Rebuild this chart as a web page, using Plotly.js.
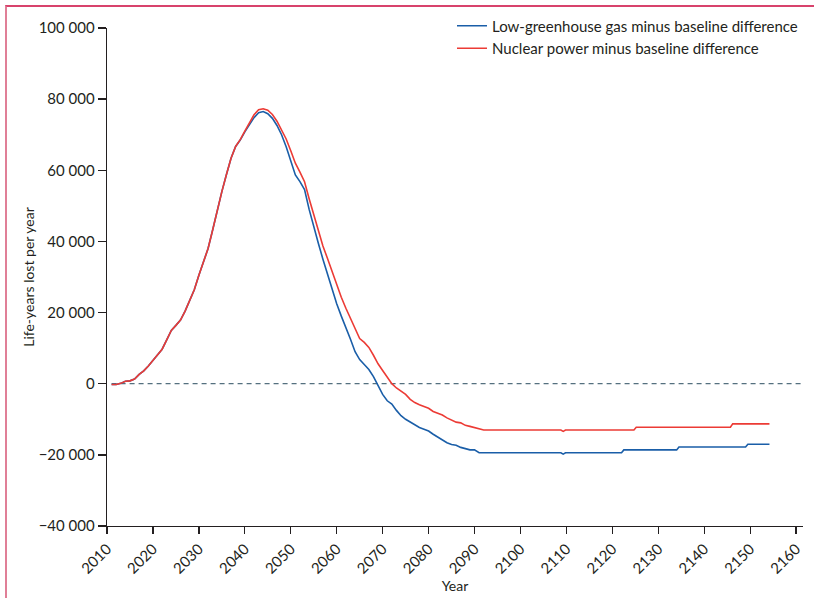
<!DOCTYPE html>
<html>
<head>
<meta charset="utf-8">
<script src="https://cdn.plot.ly/plotly-3.0.1.min.js"></script>
<style>
  html, body { margin: 0; padding: 0; background: #fff; }
  #wrap { position: relative; width: 814px; height: 598px; }
  #chart { width: 814px; height: 598px; }
  #frame { position: absolute; left: 5px; top: 5px; right: 0; bottom: 0; z-index: 10;
           border-top: 2px solid #d8436c; border-left: 2px solid #e07f97; pointer-events: none; }
</style>
</head>
<body>
<div id="wrap">
  <div id="chart"></div>
  <div id="frame"></div>
</div>
<script>
// Years and values
const lowGhgYears = [2011,2012,2013,2014,2015,2016,2017,2018,2019,2020,2021,2022,2023,2024,2025,2026,2027,2028,2029,2030,
  2031,2032,2033,2034,2035,2036,2037,2038,2039,2040,2041,2042,2043,2044,2045,2046,2047,2048,2049,2050,
  2051,2052,2053,2054,2055,2056,2057,2058,2059,2060,2061,2062,2063,2064,2065,2066,2067,2068,2069,2070,
  2071,2072,2073,2074,2075,2076,2077,2078,2079,2080,2081,2082,2083,2084,2085,2086,2087,2088,2089,2090,
  2091,2100,2108.8,2109.3,2109.8,2122,2122.5,2134,2134.5,2149,2149.5,2154.2];
const lowGhgValues = [-200,-200,100,700,800,1300,2600,3600,5000,6600,8200,9700,12300,15000,16400,17900,20400,23200,26400,30500,
  34000,38000,43200,49000,54000,58800,63400,66700,68500,70800,73000,74800,76200,76500,75900,74600,72600,70000,66600,62500,
  58700,56800,54600,49000,44000,39500,35000,30800,26500,22500,19000,15900,12500,9000,6800,5400,4000,2000,-600,-3000,
  -4800,-5700,-7500,-9000,-10000,-10800,-11600,-12300,-12800,-13300,-14200,-15000,-15800,-16600,-17100,-17300,-17900,-18300,-18600,-18600,
  -19400,-19400,-19400,-19800,-19400,-19400,-18600,-18600,-17800,-17800,-17000,-17000];

const nuclearYears = [2011,2012,2013,2014,2015,2016,2017,2018,2019,2020,2021,2022,2023,2024,2025,2026,2027,2028,2029,2030,
  2031,2032,2033,2034,2035,2036,2037,2038,2039,2040,2041,2042,2043,2044,2045,2046,2047,2048,2049,2050,
  2051,2052,2053,2054,2055,2056,2057,2058,2059,2060,2061,2062,2063,2064,2065,2066,2067,2068,2069,2070,
  2071,2072,2073,2074,2075,2076,2077,2078,2079,2080,2081,2082,2083,2084,2085,2086,2087,2088,2089,2090,
  2091,2092,2100,2108.8,2109.3,2109.8,2124.7,2125.2,2145.7,2146.2,2154.2];
const nuclearValues = [-200,-200,100,700,800,1300,2600,3600,5000,6600,8200,9700,12300,15000,16400,17900,20400,23200,26400,30500,
  34000,38000,43200,49000,54000,58800,63400,66700,68600,71000,73500,75600,77000,77300,76900,75700,73800,71500,68800,65500,
  62000,59500,56800,52000,47500,42800,38700,35200,31500,27800,24300,21200,18300,15300,12700,11600,10200,8000,5600,3700,
  1800,0,-1200,-2200,-3000,-4400,-5300,-5900,-6300,-6900,-7800,-8300,-8800,-9600,-10300,-10800,-11000,-11700,-12000,-12300,
  -12700,-13000,-13000,-13000,-13400,-13000,-13000,-12250,-12250,-11300,-11300];

const seriesNames = ['Low-greenhouse gas minus baseline difference', 'Nuclear power minus baseline difference'];
const yTicks = [-40000,-20000,0,20000,40000,60000,80000,100000];
const yTickText = ['\u221240 000','\u221220 000','0','20 000','40 000','60 000','80 000','100 000'];
const xTicks = [2010,2020,2030,2040,2050,2060,2070,2080,2090,2100,2110,2120,2130,2140,2150,2160];

const fontFam = 'Lato, "Open Sans", sans-serif';
const txt = '#231f20';

const traces = [
  { x: lowGhgYears, y: lowGhgValues, name: seriesNames[0], type: 'scatter', mode: 'lines',
    line: { color: '#1a5ea8', width: 1.6 } },
  { x: nuclearYears, y: nuclearValues, name: seriesNames[1], type: 'scatter', mode: 'lines',
    line: { color: '#ec3b35', width: 1.6 } }
];

const layout = {
  width: 814, height: 598,
  margin: { l: 107, r: 11, t: 27, b: 72 },
  paper_bgcolor: '#fff', plot_bgcolor: '#fff',
  font: { family: fontFam, size: 15, color: txt },
  showlegend: true,
  legend: { x: 1, xanchor: 'right', y: 1.035, yanchor: 'top', font: { size: 15, color: txt },
            bgcolor: 'rgba(0,0,0,0)', tracegroupgap: 0, itemwidth: 30 },
  xaxis: {
    range: [2010, 2161.5], tickmode: 'array', tickvals: xTicks, ticktext: xTicks.map(String),
    tickangle: -45, ticks: 'outside', ticklen: 7, tickwidth: 1.3, tickcolor: '#231f20',
    showline: true, linecolor: '#231f20', linewidth: 1.3, showgrid: false, zeroline: false,
    tickfont: { size: 15, color: txt },
    title: { text: 'Year', font: { size: 14, color: txt }, standoff: 1 }
  },
  yaxis: {
    range: [-40000, 100000], tickmode: 'array', tickvals: yTicks, ticktext: yTickText,
    ticks: 'outside', ticklen: 8, tickwidth: 1.3, tickcolor: '#231f20',
    showline: true, linecolor: '#231f20', linewidth: 1.3, showgrid: false, zeroline: false,
    tickfont: { size: 15, color: txt },
    title: { text: 'Life-years lost per year', font: { size: 14, color: txt }, standoff: 0 }
  },
  shapes: [
    { type: 'line', xref: 'x', yref: 'y', x0: 2011, x1: 2161, y0: 0, y1: 0,
      line: { color: '#55707f', width: 1.3, dash: '5px,4px' }, layer: 'below' }
  ]
};

Plotly.newPlot('chart', traces, layout, { displayModeBar: false, staticPlot: true });
</script>
</body>
</html>
